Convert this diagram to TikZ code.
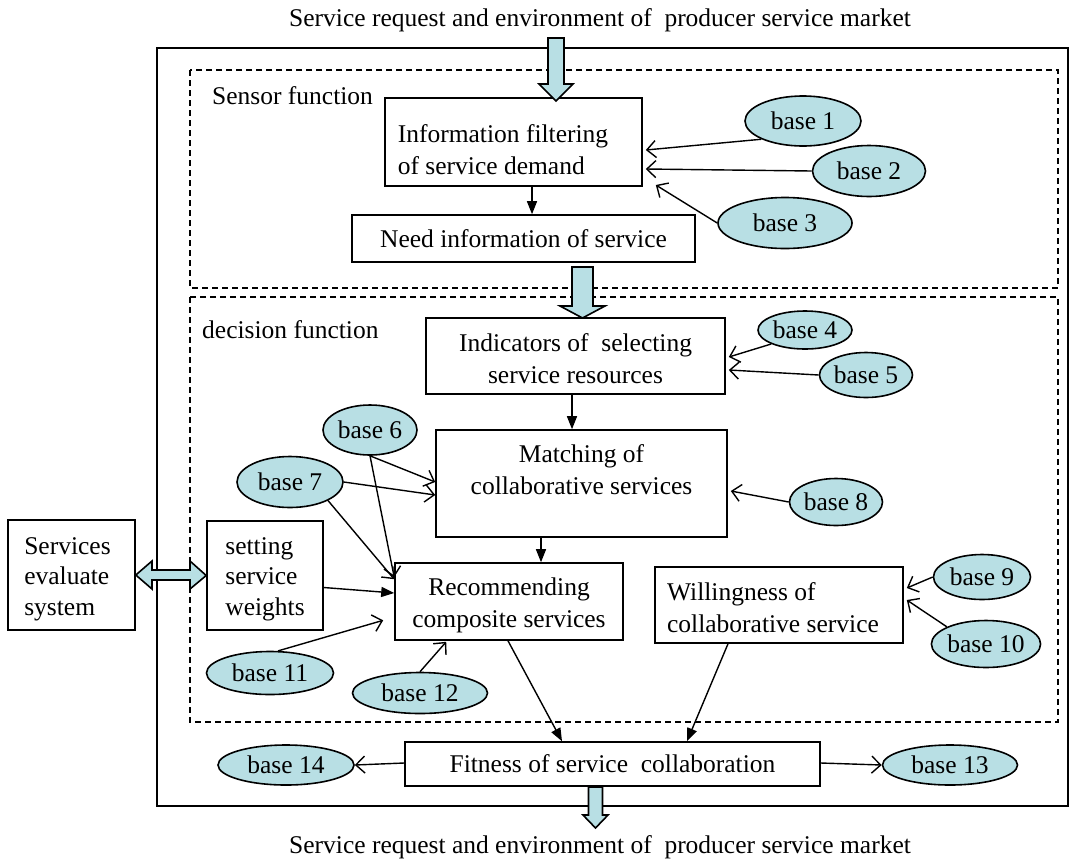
\documentclass[tikz,border=0pt]{standalone}
\usepackage{fontspec}
\setmainfont{Liberation Serif}
\usetikzlibrary{arrows.meta,shapes.geometric,calc}
\definecolor{basefill}{RGB}{184,223,228}
\begin{document}
\begin{tikzpicture}[x=1pt,y=-1pt,
  font=\fontsize{25.5}{32}\selectfont,
  box/.style={draw, line width=1.6pt, inner sep=0pt},
  base/.style={ellipse, draw, fill=basefill, line width=1.6pt, inner sep=0pt},
  openarr/.style={-{Straight Barb[length=9pt,width=17pt,line width=1.4pt]}, line width=1.4pt},
  solidarr/.style={-{Triangle[length=13pt,width=10pt]}, line width=1.4pt},
  block/.style={draw, fill=basefill, line width=1.6pt, line join=miter},
  frame/.style={line width=1.4pt, dash pattern=on 6pt off 4pt},
  lbl/.style={inner sep=0pt},
  lbl3/.style={inner sep=0pt, align=left, font=\fontsize{25.5}{30.5}\selectfont}]
\useasboundingbox (0,0) rectangle (1070,863);

% frames
\draw[line width=1.6pt] (157,48) rectangle (1068,806);
\draw[frame] (190,70) rectangle (1058,288);
\draw[frame] (190,297) rectangle (1058,722);

% titles
\node[lbl] (toptxt) at (600,20) {Service request and environment of~ producer service market};
\node[lbl] (bottxt) at (600,847) {Service request and environment of~ producer service market};
\node[lbl, anchor=west] (sensor) at (212,96) {Sensor function};
\node[lbl, anchor=west] (decision) at (202,330) {decision function};

% boxes
\node[box, minimum width=257pt, minimum height=88pt] (filt) at (513.5,142) {};
\node[lbl, align=left] (filtT) at (503,149.5) {Information filtering\\of service demand};
\node[box, minimum width=343pt, minimum height=47pt] (need) at (523.5,238.5) {Need information of service};
\node[box, minimum width=299pt, minimum height=76pt] (ind) at (575.5,356) {};
\node[lbl, align=center] (indT) at (575.5,359) {Indicators of~ selecting\\service resources};
\node[box, minimum width=291pt, minimum height=107pt] (match) at (581.5,483.5) {};
\node[lbl, align=center] (matchT) at (581.5,470) {Matching of\\collaborative services};
\node[box, minimum width=228pt, minimum height=77pt] (rec) at (509,601.5) {};
\node[lbl, align=center] (recT) at (509,605.5) {Recommending\\composite services};
\node[box, minimum width=116pt, minimum height=109pt] (weights) at (265,575.5) {};
\node[lbl3] (weightsT) at (265,579) {setting\\service\\weights};
\node[box, minimum width=127pt, minimum height=110pt] (evalsys) at (71.5,575) {};
\node[lbl3] (evalsysT) at (67.5,579) {Services\\evaluate\\system};
\node[box, minimum width=248pt, minimum height=76pt] (will) at (779,605) {};
\node[lbl, align=left] (willT) at (773,607.5) {Willingness of\\collaborative service};
\node[box, minimum width=415pt, minimum height=44pt] (fit) at (612.5,764) {Fitness of service~ collaboration};

% bases
\node[base, minimum width=116pt, minimum height=50pt] (b1) at (803,121) {base 1};
\node[base, minimum width=113pt, minimum height=51pt] (b2) at (869,171) {base 2};
\node[base, minimum width=134pt, minimum height=51pt] (b3) at (785,223) {base 3};
\node[base, minimum width=94pt, minimum height=38pt] (b4) at (805,330) {base 4};
\node[base, minimum width=93pt, minimum height=45pt] (b5) at (866,375) {base 5};
\node[base, minimum width=94pt, minimum height=50pt] (b6) at (370,430) {base 6};
\node[base, minimum width=106pt, minimum height=51pt] (b7) at (290,482) {base 7};
\node[base, minimum width=93pt, minimum height=47pt] (b8) at (836,502) {base 8};
\node[base, minimum width=97pt, minimum height=45pt] (b9) at (982,577) {base 9};
\node[base, minimum width=105pt, minimum height=47pt] (b10) at (986,644) {base 10};
\node[base, minimum width=127pt, minimum height=43pt] (b11) at (270,673) {base 11};
\node[base, minimum width=135pt, minimum height=41pt] (b12) at (420,693) {base 12};
\node[base, minimum width=135pt, minimum height=40pt] (b13) at (950,765) {base 13};
\node[base, minimum width=136pt, minimum height=40pt] (b14) at (286,765) {base 14};

% block arrows
\draw[block] (548,38) -- (564,38) -- (564,84) -- (573,84) -- (556,101) -- (539,84) -- (548,84) -- cycle;
\draw[block] (572,267) -- (593,267) -- (593,306) -- (605,306) -- (582.5,318) -- (560,306) -- (572,306) -- cycle;
\draw[block] (588.5,787) -- (602.5,787) -- (602.5,815) -- (608,815) -- (595.5,828) -- (583,815) -- (588.5,815) -- cycle;
\draw[block] (evalsys.east) -- (152,561) -- (152,570) -- (190,570) -- (190,561) -- (weights.west) -- (190,589) -- (190,580) -- (152,580) -- (152,589) -- cycle;

% sensor arrows
\draw[openarr] (b1.south west) -- ($(filt.east)+(3,8)$);
\draw[openarr] (b2.west) -- ($(filt.east)+(3,27)$);
\draw[openarr] (b3.west) -- ($(filt.east)+(13,43)$);
\draw[solidarr] ($(filt.south)+(18.5,0)$) -- ($(need.north)+(8.5,0)$);

% decision arrows
\draw[openarr] (b4.south west) -- ($(ind.east)+(3,1)$);
\draw[openarr] (b5.west) -- ($(ind.east)+(3,14)$);
\draw[solidarr] ($(ind.south)+(-3.5,0)$) -- ($(match.north)+(-9.5,0)$);
\draw[openarr] (b6.south) -- ($(match.west)+(0,-1.5)$);
\draw[openarr] (b6.south) -- ($(rec.north west)+(0,15)$);
\draw[openarr] (b7.east) -- ($(match.west)+(0,11.5)$);
\draw[openarr] (b7.south east) -- ($(rec.north west)+(0,17)$);
\draw[openarr] (b8.west) -- ($(match.east)+(3,7.5)$);
\draw[solidarr] ($(match.south)+(-40.5,0)$) -- ($(rec.north)+(32,0)$);
\draw[solidarr] ($(weights.east)+(0,12)$) -- ($(rec.west)+(0,-8.5)$);
\draw[openarr] (b11.70) -- ($(rec.south west)+(-11,-20.5)$);
\draw[openarr] (b12.north) -- ($(rec.south west)+(52,1)$);
\draw[openarr] (b9.west) -- ($(will.east)+(3,-17)$);
\draw[openarr] (b10.north west) -- ($(will.east)+(3,-5)$);

% to fitness
\draw[solidarr] ($(rec.south)+(-1,0)$) -- ($(fit.north)+(-50.5,0)$);
\draw[solidarr] ($(will.south)+(-51,0)$) -- ($(fit.north)+(74.5,0)$);
\draw[openarr] ($(fit.west)+(0,-1)$) -- (b14.east);
\draw[openarr] ($(fit.east)+(0,-1)$) -- (b13.west);
\end{tikzpicture}
\end{document}
